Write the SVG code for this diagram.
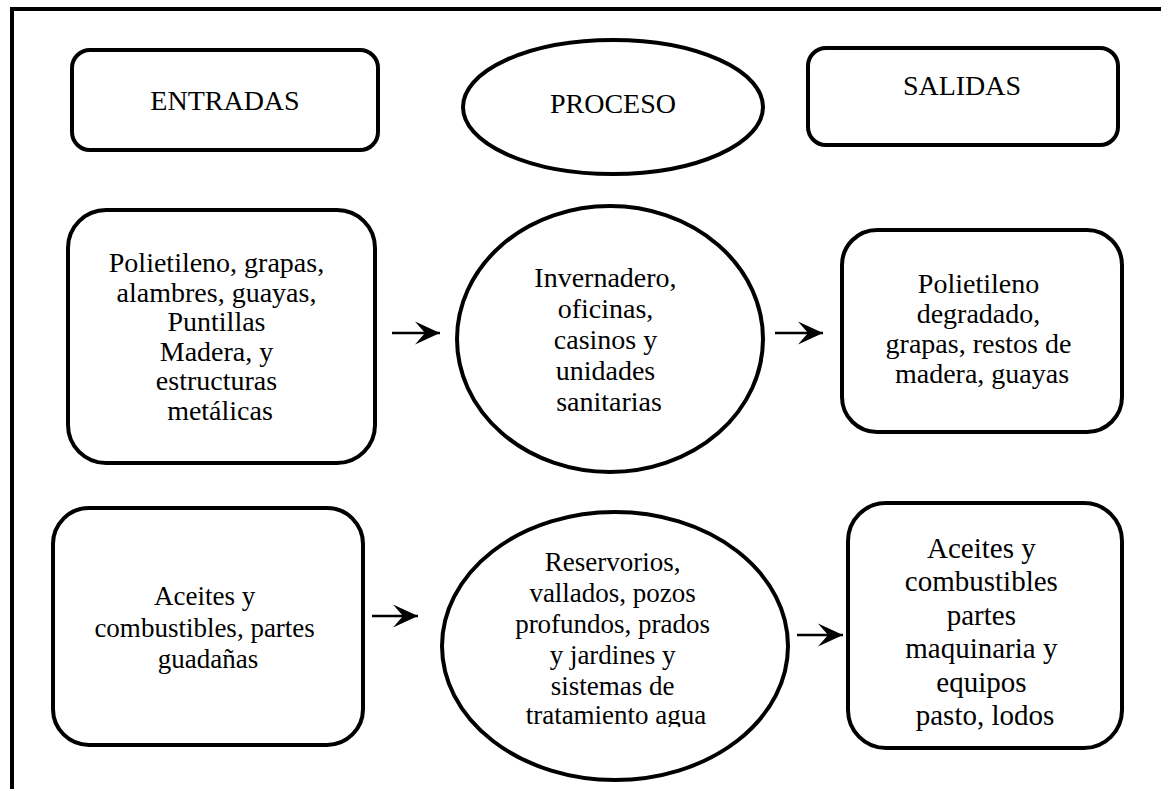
<svg xmlns="http://www.w3.org/2000/svg" width="1161" height="789" viewBox="0 0 1161 789">
  <style>
    .shape { fill: #fff; stroke: #000; stroke-width: 4; }
    .t { font-family: "Liberation Serif", "Times New Roman", serif; fill: #000; text-anchor: middle; font-size: 28px; }
    .s27 { font-size: 27px; }
    .s29 { font-size: 29px; }
    .conn { stroke: #000; stroke-width: 2.5; fill: none; }
  </style>
  <defs>
    <marker id="ah" markerUnits="userSpaceOnUse" viewBox="0 -12 26 24" refX="25" refY="0" markerWidth="26" markerHeight="24" orient="auto">
      <path d="M0,-11.5 L25,0 L0,11.5 L10,0 Z" fill="#000"/>
    </marker>
    <clipPath id="clipBottom">
      <rect x="0" y="0" width="1161" height="727"/>
    </clipPath>
  </defs>
  <rect width="1161" height="789" fill="#fff"/>
  <path d="M12,791 V9 H1165" fill="none" stroke="#000" stroke-width="4"/>

  <g id="entradas">
    <rect class="shape" x="72" y="50" width="306" height="100" rx="18"/>
    <text class="t" x="225" y="110">ENTRADAS</text>
  </g>
  <g id="proceso">
    <ellipse class="shape" cx="613" cy="107" rx="150" ry="67"/>
    <text class="t" x="613" y="113">PROCESO</text>
  </g>
  <g id="salidas">
    <rect class="shape" x="808" y="48" width="310" height="97" rx="18"/>
    <text class="t" x="962" y="95">SALIDAS</text>
  </g>

  <g id="entrada1">
    <rect class="shape" x="68" y="210" width="307" height="253" rx="38"/>
    <text class="t" x="220">
      <tspan x="220" y="272">Polietileno, grapas,</tspan>
      <tspan x="220" y="302">alambres, guayas,</tspan>
      <tspan x="220" y="331">Puntillas</tspan>
      <tspan x="220" y="361">Madera, y</tspan>
      <tspan x="220" y="390">estructuras</tspan>
      <tspan x="220" y="420">metálicas</tspan>
    </text>
  </g>
  <g id="proceso1">
    <ellipse class="shape" cx="610" cy="339" rx="153" ry="133"/>
    <text class="t" x="609">
      <tspan x="609" y="287">Invernadero,</tspan>
      <tspan x="609" y="318">oficinas,</tspan>
      <tspan x="609" y="349">casinos y</tspan>
      <tspan x="609" y="380">unidades</tspan>
      <tspan x="609" y="411">sanitarias</tspan>
    </text>
  </g>
  <g id="salida1">
    <rect class="shape" x="842" y="230" width="280" height="202" rx="35"/>
    <text class="t" x="982">
      <tspan x="982" y="293">Polietileno</tspan>
      <tspan x="982" y="323">degradado,</tspan>
      <tspan x="982" y="353">grapas, restos de</tspan>
      <tspan x="982" y="383">madera, guayas</tspan>
    </text>
  </g>

  <g id="entrada2">
    <rect class="shape" x="53" y="508" width="310" height="237" rx="36"/>
    <text class="t s27" x="208">
      <tspan x="208" y="605">Aceites y</tspan>
      <tspan x="208" y="637">combustibles, partes</tspan>
      <tspan x="208" y="668">guadañas</tspan>
    </text>
  </g>
  <g id="proceso2">
    <ellipse class="shape" cx="615" cy="646" rx="173" ry="134"/>
    <text class="t s27" x="616" clip-path="url(#clipBottom)">
      <tspan x="616" y="571">Reservorios,</tspan>
      <tspan x="616" y="602">vallados, pozos</tspan>
      <tspan x="616" y="633">profundos, prados</tspan>
      <tspan x="616" y="664">y jardines y</tspan>
      <tspan x="616" y="695">sistemas de</tspan>
      <tspan x="616" y="724">tratamiento agua</tspan>
    </text>
  </g>
  <g id="salida2">
    <rect class="shape" x="848" y="503" width="274" height="245" rx="38"/>
    <text class="t s29" x="985">
      <tspan x="985" y="558">Aceites y</tspan>
      <tspan x="985" y="591">combustibles</tspan>
      <tspan x="985" y="625">partes</tspan>
      <tspan x="985" y="658">maquinaria y</tspan>
      <tspan x="985" y="692">equipos</tspan>
      <tspan x="985" y="725">pasto, lodos</tspan>
    </text>
  </g>

  <g id="connectors">
    <line class="conn" x1="392" y1="333" x2="440" y2="333" marker-end="url(#ah)"/>
    <line class="conn" x1="775" y1="333" x2="823" y2="333" marker-end="url(#ah)"/>
    <line class="conn" x1="372" y1="616" x2="418" y2="616" marker-end="url(#ah)"/>
    <line class="conn" x1="797" y1="635" x2="843" y2="635" marker-end="url(#ah)"/>
  </g>
</svg>
